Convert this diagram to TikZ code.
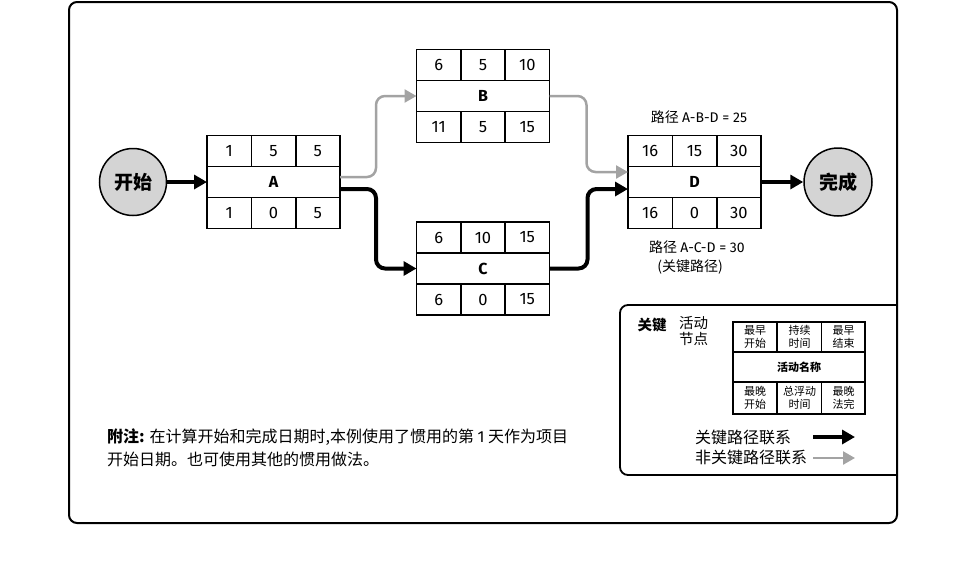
\documentclass[tikz,border=0pt]{standalone}
\usepackage{fontspec}
\setmainfont{Noto Sans CJK SC}
\newfontfamily\latinf{Fira Sans}
\usetikzlibrary{arrows.meta}
\definecolor{ncgrey}{HTML}{A3A3A3}
\definecolor{circfill}{HTML}{D4D4D4}
\tikzset{
  actbox/.style={draw, line width=1.6pt, minimum width=133pt, minimum height=93pt, inner sep=0pt, outer sep=0pt},
  boxline/.style={line width=1.6pt},
  numtxt/.style={font=\fontsize{16.5}{18}\selectfont\latinf, inner sep=0pt},
  lbltxt/.style={font=\fontsize{16}{18}\selectfont\latinf\bfseries, inner sep=0pt},
  circ/.style={circle, draw, line width=1.5pt, fill=circfill, minimum size=67pt, inner sep=0pt, font=\fontsize{19}{22}\selectfont\bfseries},
  crit/.style={line width=4pt, -{Triangle[length=13pt,width=14pt]}, rounded corners=9pt},
  noncrit/.style={line width=2.5pt, draw=ncgrey, -{Triangle[length=12pt,width=13pt]}, rounded corners=9pt},
  pathlbl/.style={font=\fontsize{14}{16}\selectfont, inner sep=0pt},
  legsmall/.style={font=\fontsize{11}{12.5}\selectfont, align=center, inner sep=0pt},
  notetxt/.style={font=\fontsize{16}{22}\selectfont, align=left, inner sep=0pt},
}
\newcommand\actnode[9]{%
  \node[actbox] (#1) at #2 {};
  \draw[boxline] ([shift={(-66.5pt,15.5pt)}]#1.center) -- ++(133pt,0pt);
  \draw[boxline] ([shift={(-66.5pt,-15.5pt)}]#1.center) -- ++(133pt,0pt);
  \draw[boxline] ([shift={(-22.2pt,46.5pt)}]#1.center) -- ++(0pt,-31pt);
  \draw[boxline] ([shift={(22.2pt,46.5pt)}]#1.center) -- ++(0pt,-31pt);
  \draw[boxline] ([shift={(-22.2pt,-46.5pt)}]#1.center) -- ++(0pt,31pt);
  \draw[boxline] ([shift={(22.2pt,-46.5pt)}]#1.center) -- ++(0pt,31pt);
  \node[numtxt] (#1-t1) at ([shift={(-44.3pt,31pt)}]#1.center) {#3};
  \node[numtxt] (#1-t2) at ([shift={(0pt,31pt)}]#1.center) {#4};
  \node[numtxt] (#1-t3) at ([shift={(44.3pt,31pt)}]#1.center) {#5};
  \node[lbltxt] (#1-l) at (#1.center) {#6};
  \node[numtxt] (#1-b1) at ([shift={(-44.3pt,-31pt)}]#1.center) {#7};
  \node[numtxt] (#1-b2) at ([shift={(0pt,-31pt)}]#1.center) {#8};
  \node[numtxt] (#1-b3) at ([shift={(44.3pt,-31pt)}]#1.center) {#9};
}
\begin{document}
\begin{tikzpicture}[x=1pt,y=-1pt]
\useasboundingbox (0,0) rectangle (970,566);
% outer frame
\draw[line width=2pt, rounded corners=8pt] (69,2) rectangle (897,523);
% legend box
\draw[line width=1.8pt, rounded corners=8pt] (897,305) -- (620,305) -- (620,475) -- (897,475);

% circles
\node[circ] (start) at (133,182) {开始};
\node[circ, minimum size=68pt] (finish) at (838,182) {完成};

% activity nodes
\actnode{A}{(273.5,182)}{1}{5}{5}{A}{1}{0}{5}
\actnode{B}{(483,96)}{6}{5}{10}{B}{11}{5}{15}
\actnode{C}{(483,268.5)}{6}{10}{15}{C}{6}{0}{15}
\actnode{D}{(694.5,182)}{16}{15}{30}{D}{16}{0}{30}

% connectors
\draw[noncrit] ([yshift=5pt]A.east) -- ++(36,0) |- (B.west);
\draw[noncrit] (B.east) -- ++(37,0) |- ([yshift=10pt]D.west);
\draw[crit] (start.east) -- (A.west);
\draw[crit] ([yshift=-7pt]A.east) -- ++(36,0) |- (C.west);
\draw[crit] (C.east) -- ++(38,0) |- ([yshift=-7pt]D.west);
\draw[crit] (D.east) -- (finish.west);

% path labels
\node[pathlbl] (lab1) at (699,117) {路径 {\latinf A-B-D = 25}};
\node[pathlbl] (lab2) at (697,247) {路径 {\latinf A-C-D = 30}};
\node[pathlbl] (lab3) at (690,267) {(关键路径)};

% legend
\node[font=\fontsize{14.5}{17}\selectfont\bfseries, inner sep=0pt] (kkey) at (652,325) {关键};
\node[font=\fontsize{14.5}{17}\selectfont, inner sep=0pt, align=left, anchor=north west] (knode) at (679,316) {活动\\[-1pt]节点};

\node[draw, line width=1.3pt, minimum width=132pt, minimum height=92pt, inner sep=0pt, outer sep=0pt] (L) at (799,368) {};
\draw[line width=1.3pt] ([shift={(-66pt,16pt)}]L.center) -- ++(132pt,0pt);
\draw[line width=1.3pt] ([shift={(-66pt,-14pt)}]L.center) -- ++(132pt,0pt);
\draw[line width=1.3pt] ([shift={(-22pt,46pt)}]L.center) -- ++(0pt,-30pt);
\draw[line width=1.3pt] ([shift={(22.5pt,46pt)}]L.center) -- ++(0pt,-30pt);
\draw[line width=1.3pt] ([shift={(-22pt,-46pt)}]L.center) -- ++(0pt,32pt);
\draw[line width=1.3pt] ([shift={(22.5pt,-46pt)}]L.center) -- ++(0pt,32pt);
\node[legsmall] (L-t1) at (755,337) {最早\\开始};
\node[legsmall] (L-t2) at (799.5,337) {持续\\时间};
\node[legsmall] (L-t3) at (843.5,337) {最早\\结束};
\node[legsmall, font=\fontsize{11}{12.5}\selectfont\bfseries] (L-l) at (799,367) {活动名称};
\node[legsmall] (L-b1) at (755,398) {最晚\\开始};
\node[legsmall] (L-b2) at (799.5,398) {总浮动\\时间};
\node[legsmall] (L-b3) at (843.5,398) {最晚\\法完};

\node[font=\fontsize{16}{18}\selectfont, inner sep=0pt, anchor=west] (k1) at (695,437) {关键路径联系};
\node[font=\fontsize{16}{18}\selectfont, inner sep=0pt, anchor=west] (k2) at (695,457) {非关键路径联系};
\coordinate (k1s) at (813,437);
\coordinate (k1e) at (855,437);
\coordinate (k2s) at (813,458);
\coordinate (k2e) at (855,458);
\draw[crit] (k1s) -- (k1e);
\draw[noncrit] (k2s) -- (k2e);

% note
\node[notetxt, anchor=west] (note1) at (107,437) {\textbf{附注:} 在计算开始和完成日期时,本例使用了惯用的第 {\latinf 1} 天作为项目};
\node[notetxt, anchor=west] (note2) at (107,459) {开始日期。也可使用其他的惯用做法。};
\end{tikzpicture}
\end{document}
